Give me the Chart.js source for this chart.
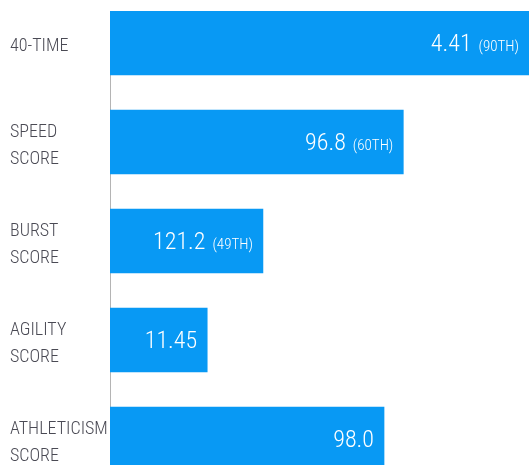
<!DOCTYPE html>
<html>
<head>
<meta charset="utf-8">
<script src="https://cdn.jsdelivr.net/npm/chart.js@4"></script>
<style>
  html, body { margin: 0; padding: 0; background: #fff; overflow: hidden; }
  #wrap { width: 529px; height: 465px; }
</style>
</head>
<body>
<div id="wrap"><canvas id="chart"></canvas></div>
<script>
// measurement names (two-line labels on the left)
const labels = [["40-TIME"], ["SPEED", "SCORE"], ["BURST", "SCORE"], ["AGILITY", "SCORE"], ["ATHLETICISM", "SCORE"]];
// bar length (relative)
const barValues = [100, 70, 36.5, 23.2, 65.4];
// text shown inside the bars
const results = ["4.41", "96.8", "121.2", "11.45", "98.0"];
const percentiles = ["(90TH)", "(60TH)", "(49TH)", "", ""];

const FONT = "'Roboto Condensed', 'Roboto', sans-serif";

// value labels drawn inside the right end of each bar
const valueLabels = {
    id: "valueLabels",
    afterDatasetsDraw(chart) {
        const ctx = chart.ctx;
        const meta = chart.getDatasetMeta(0);
        ctx.save();
        ctx.fillStyle = "#ffffff";
        ctx.textBaseline = "alphabetic";
        ctx.textAlign = "right";
        meta.data.forEach((bar, i) => {
            let right = Math.min(bar.x, chart.chartArea.right) - 10;
            const base = bar.y + 8;
            if (percentiles[i]) {
                ctx.font = "300 15px " + FONT;
                ctx.fillText(percentiles[i], right, base);
                right -= ctx.measureText(percentiles[i]).width + 7;
            }
            ctx.font = "300 24px " + FONT;
            ctx.fillText(results[i], right, base);
        });
        ctx.restore();
    }
};

new Chart(document.getElementById("chart"), {
    type: "bar",
    data: {
        datasets: [{
            data: barValues.map((v, i) => ({x: v, y: i})),
            backgroundColor: "#0899f4",
            borderWidth: 0,
            barThickness: 64
        }]
    },
    options: {
        indexAxis: "y",
        responsive: true,
        maintainAspectRatio: false,
        animation: false,
        layout: { padding: { left: 10, top: 11, right: 0, bottom: 0 } },
        plugins: {
            legend: { display: false },
            tooltip: { enabled: false }
        },
        scales: {
            x: {
                display: false,
                min: 0,
                max: 100
            },
            y: {
                type: "linear",
                reverse: true,
                offset: false,
                min: -0.323,
                max: 4.263,
                afterFit: scale => {
                    scale.width = 100;
                    scale.paddingTop = 0;
                    scale.paddingBottom = 0;
                },
                grid: { display: false },
                border: { display: true, color: "#b4b4b4", width: 1 },
                ticks: {
                    stepSize: 1,
                    crossAlign: "far",
                    labelOffset: 4,
                    color: "#4a4a54",
                    font: { family: FONT, size: 18, weight: "300", lineHeight: 1.45 },
                    callback: value => Number.isInteger(value) ? labels[value] : null
                }
            }
        }
    },
    plugins: [valueLabels]
});
</script>
</body>
</html>
